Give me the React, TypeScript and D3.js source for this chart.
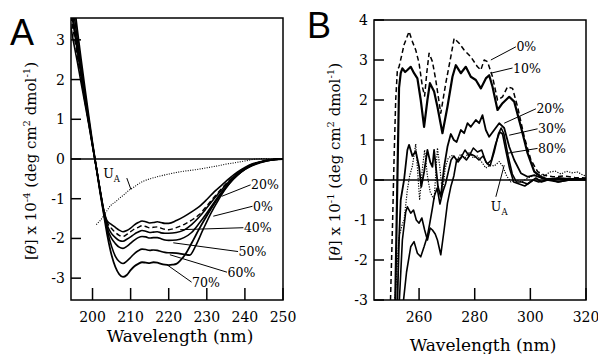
import React from 'react';
import * as d3 from 'd3';

type P = [number, number];

// ---------- Panel A data (wavelength nm, [theta] x 1e-4) ----------
const aXTicks = [200, 210, 220, 230, 240, 250];
const aYTicks = [-3, -2, -1, 0, 1, 2, 3];

const a20: P[] = [[194,3.5],[195,2.95],[196,2.45],[197,1.92],[198,1.4],[199,0.88],[200,0.32],[201,-0.22],[202,-0.78],[203,-1.3],[203.8,-1.55],[205,-1.65],[206,-1.72],[207,-1.79],[208,-1.83],[209,-1.8],[210,-1.74],[211,-1.66],[212,-1.6],[213,-1.56],[214,-1.58],[215,-1.61],[216,-1.6],[217,-1.58],[218,-1.6],[219,-1.62],[220,-1.62],[222,-1.55],[224,-1.45],[226,-1.33],[228,-1.2],[230,-1.02],[232,-0.82],[234,-0.65],[236,-0.48],[238,-0.33],[240,-0.21],[242,-0.12],[244,-0.07],[246,-0.03],[248,-0.01],[250,0]];
const a0: P[] = [[194,3.8],[195,3.2],[196,2.6],[197,2.02],[198,1.45],[199,0.9],[200,0.33],[201,-0.22],[202,-0.8],[203,-1.32],[204,-1.62],[205,-1.75],[206,-1.85],[207,-1.92],[208,-1.95],[209,-1.9],[210,-1.83],[211,-1.76],[212,-1.72],[213,-1.68],[214,-1.7],[215,-1.73],[216,-1.72],[217,-1.71],[218,-1.74],[219,-1.77],[220,-1.78],[222,-1.73],[224,-1.65],[226,-1.54],[228,-1.4],[230,-1.18],[232,-0.95],[234,-0.73],[236,-0.53],[238,-0.36],[240,-0.23],[242,-0.13],[244,-0.07],[246,-0.03],[248,-0.01],[250,0]];
const a40: P[] = [[194,4.0],[195,3.35],[196,2.72],[197,2.1],[198,1.5],[199,0.92],[200,0.34],[201,-0.22],[202,-0.8],[203,-1.33],[204,-1.7],[205,-1.88],[206,-1.98],[207,-2.05],[208,-2.07],[209,-2.02],[210,-1.96],[211,-1.89],[212,-1.84],[213,-1.8],[214,-1.82],[215,-1.85],[216,-1.84],[217,-1.83],[218,-1.86],[219,-1.87],[220,-1.87],[222,-1.85],[224,-1.79],[226,-1.65],[228,-1.46],[230,-1.23],[232,-0.99],[234,-0.76],[236,-0.55],[238,-0.37],[240,-0.24],[242,-0.14],[244,-0.08],[246,-0.03],[248,-0.01],[250,0]];
const a50: P[] = [[194,4.2],[195,3.5],[196,2.85],[197,2.2],[198,1.58],[199,0.96],[200,0.36],[201,-0.22],[202,-0.8],[203,-1.35],[204,-1.78],[205,-2.0],[206,-2.13],[207,-2.22],[208,-2.25],[209,-2.2],[210,-2.12],[211,-2.04],[212,-1.98],[213,-1.95],[214,-1.96],[215,-1.99],[216,-1.98],[217,-1.98],[218,-2.01],[219,-2.04],[220,-2.05],[222,-2.04],[224,-1.98],[226,-1.85],[228,-1.62],[230,-1.36],[232,-1.08],[234,-0.82],[236,-0.59],[238,-0.4],[240,-0.25],[242,-0.15],[244,-0.08],[246,-0.04],[248,-0.01],[250,0]];
const a60: P[] = [[194,4.5],[195,3.75],[196,3.02],[197,2.32],[198,1.65],[199,1.0],[200,0.38],[201,-0.22],[202,-0.82],[203,-1.38],[204,-1.85],[205,-2.2],[206,-2.45],[207,-2.58],[208,-2.63],[209,-2.57],[210,-2.48],[211,-2.38],[212,-2.31],[213,-2.27],[214,-2.28],[215,-2.3],[216,-2.29],[217,-2.3],[218,-2.33],[219,-2.35],[220,-2.36],[222,-2.37],[224,-2.4],[225.5,-2.42],[227,-2.2],[229,-1.78],[231,-1.38],[233,-1.04],[235,-0.74],[237,-0.5],[239,-0.33],[241,-0.2],[243,-0.11],[246,-0.04],[248,-0.01],[250,0]];
const a70: P[] = [[194,4.9],[195,4.05],[196,3.25],[197,2.5],[198,1.78],[199,1.08],[200,0.4],[201,-0.22],[202,-0.84],[203,-1.42],[204,-1.98],[205,-2.42],[206,-2.72],[207,-2.9],[208,-2.97],[209,-2.92],[210,-2.8],[211,-2.7],[212,-2.64],[213,-2.6],[214,-2.61],[215,-2.62],[216,-2.6],[217,-2.61],[218,-2.64],[219,-2.66],[220,-2.67],[221,-2.66],[222,-2.64],[223,-2.56],[224.5,-2.38],[226,-2.12],[228,-1.76],[230,-1.43],[232,-1.12],[234,-0.85],[236,-0.6],[238,-0.41],[240,-0.26],[242,-0.16],[244,-0.09],[246,-0.04],[248,-0.01],[250,0]];
const aUA: P[] = [[201,-1.65],[202,-1.55],[203,-1.42],[204.6,-1.19],[206,-1.08],[207.2,-0.98],[208.5,-0.88],[209.8,-0.77],[211,-0.7],[212,-0.63],[213.3,-0.56],[215,-0.5],[216.5,-0.46],[217.7,-0.43],[220,-0.38],[222,-0.34],[223.8,-0.31],[227,-0.27],[230,-0.22],[233,-0.17],[235,-0.13],[237,-0.1],[240,-0.05],[243,0.0],[245,0.01],[247,0.0],[250,0.0]];

// label annotations for A: [text, curve point λ, v, label λ, v]
const aLabels: [string, number, number, number, number][] = [
  ['20%', 233.9, -0.94, 241.5, -0.65],
  ['0%', 231.7, -1.44, 242.0, -1.19],
  ['40%', 223.0, -1.78, 239.6, -1.73],
  ['50%', 221.2, -2.11, 238.2, -2.33],
  ['60%', 220.3, -2.41, 235.3, -2.85],
  ['70%', 219.5, -2.66, 226.0, -3.1],
];
const aUALabel: [number, number, number, number] = [209.0, -0.48, 210.1, -0.77];
const aUAText: [number, number] = [202.8, -0.36];

// ---------- Panel B data (wavelength nm, [theta] x 1e-1) ----------
const bXTicks = [260, 280, 300, 320];
const bYTicks = [-3, -2, -1, 0, 1, 2, 3, 4];

const b0: P[] = [[249.5,-3.6],[250.5,-1],[251,0.5],[251.6,2.0],[252.2,2.75],[252.8,2.83],[253.7,3.1],[254.6,3.38],[256.4,3.71],[257.6,3.46],[258.8,3.25],[260,2.92],[261.2,2.33],[262,2.1],[262.8,2.7],[263.6,3.17],[264.8,2.96],[266,2.5],[267.8,1.67],[269.6,2.42],[271.4,3.08],[272.6,3.54],[274.4,3.42],[276.2,3.25],[278.6,3.08],[281,2.83],[282.2,2.75],[283.4,3.0],[284.6,2.96],[286.4,2.58],[288.2,2.0],[290,2.08],[291.8,2.33],[293.6,2.29],[295.4,1.83],[297.8,1.08],[300.2,0.5],[302.6,0.21],[305,0.12],[308,0.08],[312,0.1],[316,0.06],[320,0.05]];
const b10: P[] = [[251.3,-3.6],[252.2,0],[252.8,2.3],[253.4,2.67],[254,2.79],[255,2.7],[255.8,2.75],[257,2.83],[258.2,2.67],[259.4,2.54],[260.6,2.0],[261.8,1.33],[263,2.0],[263.9,2.42],[265.4,2.21],[266.6,1.83],[268.4,1.17],[270.2,1.83],[272,2.58],[273.2,2.87],[275,2.67],[276.8,2.83],[278.6,2.58],[280.4,2.5],[282.2,2.29],[284,2.54],[285.2,2.62],[286.4,2.33],[288.2,1.75],[290,1.92],[292.4,2.08],[294.2,1.96],[296.6,1.33],[299,0.67],[301.4,0.21],[303.8,0.08],[306,0.02],[310,0.03],[315,0.02],[320,0.02]];
const b20: P[] = [[252,-3.6],[252.8,-1.5],[253.4,-0.5],[254.6,0.0],[255.8,0.75],[256.4,0.88],[257.6,0.6],[258.8,0.72],[260,0.33],[260.8,-0.17],[261.8,0.2],[263,0.75],[264,0.45],[264.8,0.33],[265.4,0.75],[266.8,-0.17],[267.8,-0.42],[269,0.33],[270.2,0.83],[271.4,1.15],[272.5,1.0],[273.5,0.95],[275,1.25],[276.2,1.17],[277.4,1.42],[278.6,1.33],[280.4,1.5],[281.6,1.42],[282.8,1.62],[284,1.25],[285.2,1.08],[287,1.25],[288.8,1.42],[290.6,1.3],[292.4,0.83],[294.2,0.5],[296.6,0.17],[299,0.08],[301.4,0.12],[304,0.05],[307,0.0],[310,0.05],[314,0.02],[320,0.03]];
const b30: P[] = [[252.5,-3.6],[254,-1.5],[255.2,-0.8],[255.8,-0.67],[257,-0.83],[258,-0.75],[259,-1.0],[260,-1.08],[261,-0.95],[262,-1.25],[263,-1.5],[264,-1.2],[264.8,-1.25],[265.8,-1.35],[266.6,-1.5],[267.8,-1.87],[269,-1.25],[270.2,-0.58],[271.4,-0.17],[272.5,0.1],[273.5,0.5],[275,0.55],[276.5,0.75],[278,0.6],[279.5,0.8],[281,0.7],[282.5,0.75],[284,0.45],[285.5,0.35],[287,0.7],[288.5,1.15],[289.5,1.3],[290.5,1.15],[292,0.6],[293.5,0.15],[295,-0.05],[297,-0.05],[299,-0.1],[301,0.0],[303,-0.05],[306,0.0],[310,-0.05],[314,0.0],[320,0.0]];
const b80: P[] = [[253.5,-3.6],[255.5,-2.3],[257,-1.67],[258.2,-1.54],[259.4,-1.83],[260.6,-1.92],[261.8,-1.67],[263,-1.4],[263.8,-1.1],[264.8,-0.7],[265.5,-0.4],[266.5,-0.2],[267.5,-0.6],[268.5,-0.3],[269.5,-0.1],[270.5,0.2],[271.5,0.5],[272.5,0.6],[274,0.45],[275.5,0.6],[277,0.5],[278.5,0.65],[280,0.6],[281.5,0.5],[283,0.6],[284.5,0.4],[286,0.5],[287.5,0.9],[289,1.2],[290,1.15],[291,0.8],[292.5,0.3],[294,-0.05],[296,-0.1],[298,-0.15],[300,-0.05],[302,0.05],[304,-0.05],[307,0.02],[310,-0.05],[314,0.0],[318,0.02],[320,0.0]];
const bUA: P[] = [[250.6,-3.6],[251.8,-2.5],[252.8,-1.42],[254,-1.1],[254.6,-1.0],[255.8,-0.25],[256.6,0.1],[257.6,0.35],[258.8,0.9],[259.5,0.2],[260.2,-0.5],[261.2,0.3],[262,0.75],[263,0.1],[264,-0.3],[265.4,-0.5],[266.6,0.8],[267.5,0.3],[268.4,-0.35],[269.4,0.3],[270.5,0.55],[272,0.62],[273.5,0.5],[275,0.65],[276.5,0.55],[278,0.7],[279.5,0.55],[281,0.6],[282.5,0.45],[284,0.3],[285.5,0.38],[287,0.35],[288.8,0.46],[290,0.35],[291.5,0.1],[293,-0.05],[295,0.0],[297,-0.05],[299,0.05],[301,0.1],[303,0.15],[305,0.1],[307,0.2],[309,0.22],[311,0.15],[313,0.22],[315,0.18],[317,0.2],[319,0.12],[320,0.1]];

const bLabels: [string, number, number, number, number][] = [
  ['0%', 285.8, 3.0, 294.8, 3.33],
  ['10%', 285.8, 2.67, 293.6, 2.8],
  ['20%', 290.6, 1.42, 302.0, 1.78],
  ['30%', 292.4, 1.12, 302.6, 1.28],
  ['80%', 291.8, 0.67, 302.6, 0.79],
];
const bUALabel: [number, number, number, number] = [290.6, 0.37, 287.6, -0.42];
const bUAText: [number, number] = [285.8, -0.67];

const SERIF = '"DejaVu Serif", serif';

type Series = { data: P[]; dash?: string; width: number; smooth: boolean };

function Panel(props: {
  id: string;
  box: [number, number, number, number];
  xDomain: [number, number];
  yDomain: [number, number];
  xTicks: number[];
  yTicks: number[];
  series: Series[];
  labels: [string, number, number, number, number][];
  uaLeader: [number, number, number, number];
  uaText: [number, number];
  letter: string;
  letterXY: [number, number];
  exponent: string;
  yTitleX: number;
  xTitleY: number;
}) {
  const [l, r, t, b] = props.box;
  const x = d3.scaleLinear().domain(props.xDomain).range([l, r]);
  const y = d3.scaleLinear().domain(props.yDomain).range([b, t]);
  const clip = `clip-${props.id}`;
  return (
    <g>
      <defs>
        <clipPath id={clip}>
          <rect x={l} y={t} width={r - l} height={b - t} />
        </clipPath>
      </defs>
      <g clipPath={`url(#${clip})`}>
        <line x1={l} x2={r} y1={y(0)} y2={y(0)} stroke="#000" strokeWidth={1.3} />
        {props.series.map((s, i) => {
          const gen = d3
            .line<P>()
            .x((d) => x(d[0]))
            .y((d) => y(d[1]))
            .curve(s.smooth ? d3.curveMonotoneX : d3.curveLinear);
          return (
            <path
              key={i}
              d={gen(s.data) || ''}
              fill="none"
              stroke="#000"
              strokeWidth={s.width}
              strokeDasharray={s.dash}
              strokeLinejoin="round"
            />
          );
        })}
      </g>
      <rect x={l} y={t} width={r - l} height={b - t} fill="none" stroke="#000" strokeWidth={1.5} />
      {props.xTicks.map((v) => (
        <g key={'x' + v}>
          <line x1={x(v)} x2={x(v)} y1={b} y2={b - 12} stroke="#000" strokeWidth={1.5} />
          <text x={x(v)} y={b + 22} textAnchor="middle" fontFamily={SERIF} fontSize={14}>
            {v}
          </text>
        </g>
      ))}
      {props.yTicks.map((v) => (
        <g key={'y' + v}>
          <line x1={l} x2={l + 10} y1={y(v)} y2={y(v)} stroke="#000" strokeWidth={1.5} />
          <text x={l - 6} y={y(v)} dy="0.36em" textAnchor="end" fontFamily={SERIF} fontSize={14}>
            {v}
          </text>
        </g>
      ))}
      {props.labels.map(([txt, cx, cy, lx, ly]) => (
        <g key={txt}>
          <line x1={x(cx)} y1={y(cy)} x2={x(lx)} y2={y(ly)} stroke="#000" strokeWidth={1} />
          <text x={x(lx) + 0.5} y={y(ly)} dy="0.36em" fontFamily={SERIF} fontSize={12.5}>
            {txt}
          </text>
        </g>
      ))}
      <line
        x1={x(props.uaLeader[0])}
        y1={y(props.uaLeader[1])}
        x2={x(props.uaLeader[2])}
        y2={y(props.uaLeader[3])}
        stroke="#000"
        strokeWidth={1}
      />
      <text x={x(props.uaText[0])} y={y(props.uaText[1])} dy="0.36em" fontFamily={SERIF} fontSize={12.5}>
        U<tspan fontSize={8.5} dy={4}>A</tspan>
      </text>
      <text
        x={props.letterXY[0]}
        y={props.letterXY[1]}
        fontFamily='"Liberation Sans", Arial, sans-serif'
        fontSize={36}
      >
        {props.letter}
      </text>
      <text x={(l + r) / 2 + 3} y={props.xTitleY} textAnchor="middle" fontFamily={SERIF} fontSize={17}>
        Wavelength (nm)
      </text>
      <text
        transform={`translate(${props.yTitleX},${(t + b) / 2 + 2}) rotate(-90)`}
        textAnchor="middle"
        fontFamily={SERIF}
        fontSize={15}
      >
        <tspan>[</tspan>
        <tspan fontStyle="italic">θ</tspan>
        <tspan>] x 10</tspan>
        <tspan fontSize={10} dy={-6}>{props.exponent}</tspan>
        <tspan dy={6}> (deg cm</tspan>
        <tspan fontSize={10} dy={-6}>2</tspan>
        <tspan dy={6}> dmol</tspan>
        <tspan fontSize={10} dy={-6}>-1</tspan>
        <tspan dy={6}>)</tspan>
      </text>
    </g>
  );
}

export default function App() {
  const seriesA: Series[] = [
    { data: aUA, dash: '1,1.4', width: 1.1, smooth: true },
    { data: a20, width: 1.6, smooth: true },
    { data: a0, dash: '5,3', width: 1.4, smooth: true },
    { data: a40, width: 1.6, smooth: true },
    { data: a50, width: 1.6, smooth: true },
    { data: a60, width: 1.6, smooth: true },
    { data: a70, width: 1.8, smooth: true },
  ];
  const seriesB: Series[] = [
    { data: bUA, dash: '1.2,1.4', width: 1.2, smooth: false },
    { data: b0, dash: '5,3', width: 1.5, smooth: false },
    { data: b10, width: 2.2, smooth: false },
    { data: b20, width: 1.8, smooth: false },
    { data: b30, width: 1.6, smooth: false },
    { data: b80, width: 1.6, smooth: false },
  ];
  return (
    <svg
      width={598}
      height={354}
      viewBox="0 0 598 354"
      style={{ position: 'absolute', left: 0, top: 0, background: '#fff' }}
    >
      <rect width={598} height={354} fill="#fff" />
      <Panel
        id="a"
        box={[71, 283, 18, 300]}
        xDomain={[194.35, 250]}
        yDomain={[-3.55, 3.55]}
        xTicks={aXTicks}
        yTicks={aYTicks}
        series={seriesA}
        labels={aLabels}
        uaLeader={aUALabel}
        uaText={aUAText}
        letter="A"
        letterXY={[10, 45]}
        exponent="-4"
        yTitleX={36}
        xTitleY={342}
      />
      <Panel
        id="b"
        box={[374, 586, 20, 300]}
        xDomain={[243.8, 320]}
        yDomain={[-3, 4]}
        xTicks={bXTicks}
        yTicks={bYTicks}
        series={seriesB}
        labels={bLabels}
        uaLeader={bUALabel}
        uaText={bUAText}
        letter="B"
        letterXY={[307, 38]}
        exponent="-1"
        yTitleX={340}
        xTitleY={351}
      />
    </svg>
  );
}
